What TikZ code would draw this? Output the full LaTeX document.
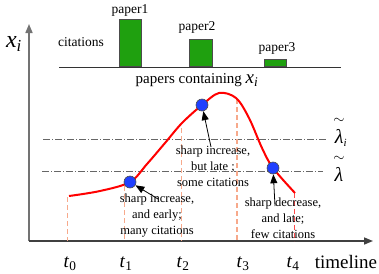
\documentclass[tikz,border=0pt]{standalone}
\usepackage{fontspec}
\setmainfont{Liberation Serif}
\usetikzlibrary{arrows.meta}
\definecolor{barg}{HTML}{1FA00F}
\definecolor{dotb}{HTML}{2040FF}
\definecolor{salmon}{HTML}{F7A98B}
\begin{document}
\begin{tikzpicture}[x=1pt,y=-1pt,
  axisline/.style={line width=1.6pt,draw=black!55},
  bar/.style={draw=black!70,fill=barg,line width=0.8pt,minimum width=22pt,inner sep=0pt,anchor=south},
  lbl/.style={inner sep=0pt,font=\fontsize{13.5}{16}\selectfont},
  annot/.style={inner sep=0pt,align=center,font=\fontsize{12.5}{16}\selectfont},
  big/.style={inner sep=0pt,font=\fontsize{19}{22}\selectfont},
  dot/.style={circle,draw=black!70,fill=dotb,line width=0.6pt,minimum size=12pt,inner sep=0pt},
  curve/.style={red,line width=2pt},
  thr/.style={black!60,line width=0.7pt,dash pattern=on 7pt off 2pt on 1pt off 2pt},
  tline/.style={salmon,line width=0.9pt,dash pattern=on 5pt off 3pt},
  arr/.style={black,line width=0.8pt,-{Triangle[length=9pt,width=7pt]}}
]
\useasboundingbox (0,0) rectangle (379,273);

% axes
\coordinate (O) at (29,241);
\coordinate (Ytop) at (29,24);
\coordinate (Xend) at (373,241);
\draw[axisline,-{Triangle[length=9pt,width=7pt]}] (O) -- (Ytop);
\draw[axisline,draw=black!75,-{Triangle[length=9pt,width=7pt]}] (O) -- (Xend);
\node[inner sep=0pt,font=\fontsize{24}{26}\selectfont] (xi) at (14,44) {\itshape x\textsubscript{i}};

% top bar chart
\coordinate (bl) at (59,67);
\coordinate (br) at (341,67);
\draw[black!80,line width=0.8pt] (bl) -- (br);
\node[bar,minimum height=47pt] (b1) at (130,67) {};
\node[bar,minimum height=27pt,minimum width=23pt] (b2) at (201,67) {};
\node[bar,minimum height=7pt] (b3) at (275,67) {};
\node[lbl] (p1) at (130,10) {paper1};
\node[lbl] (p2) at (197,27) {paper2};
\node[lbl] (p3) at (277,48) {paper3};
\node[lbl] (cit) at (81,42) {citations};
\node[inner sep=0pt,font=\fontsize{15}{17}\selectfont] (pc) at (197,80) {papers containing {\fontsize{19}{19}\selectfont\itshape x\textsubscript{i}}};

% thresholds
\coordinate (l1a) at (43,139);
\coordinate (l1b) at (327,139);
\coordinate (l2a) at (42,171);
\coordinate (l2b) at (323,171);
\draw[thr] (l1a) -- (l1b);
\draw[thr] (l2a) -- (l2b);
\node[inner sep=0pt,font=\fontsize{20}{22}\selectfont] (lam1) at (341,138) {\itshape λ\textsubscript{\fontsize{11}{11}\selectfont i}};
\node[inner sep=0pt,font=\fontsize{15}{15}\selectfont] (til1) at (339,121) {$\sim$};
\node[inner sep=0pt,font=\fontsize{20}{22}\selectfont] (lam2) at (339,174) {\itshape λ};
\node[inner sep=0pt,font=\fontsize{15}{15}\selectfont] (til2) at (339,158.5) {$\sim$};

% vertical dashed lines
\coordinate (t0a) at (67,197); \coordinate (t0b) at (67,241);
\coordinate (t1a) at (124,186); \coordinate (t1b) at (124,241);
\coordinate (t2a) at (181,128); \coordinate (t2b) at (181,241);
\coordinate (t3a) at (237,99); \coordinate (t3b) at (237,241);
\coordinate (t4a) at (294,193); \coordinate (t4b) at (294,241);
\draw[tline] (t0a) -- (t0b);
\draw[tline] (t1a) -- (t1b);
\draw[tline] (t2a) -- (t2b);
\draw[tline,line width=1.6pt] (t3a) -- (t3b);
\draw[tline,line width=0.6pt,draw=red!70] (t4a) -- (t4b);

% curve
\draw[curve] plot[smooth,tension=0.55] coordinates {(69,196) (100,191) (130,182) (147,164) (165,143) (182,123) (202,105) (219,93) (236,98) (249,118) (262,148) (273,168) (295,193)};

% dots
\node[dot] (d1) at (130,182) {};
\node[dot] (d2) at (202,105) {};
\node[dot] (d3) at (273,168) {};

% annotations
\node[annot] (a2) at (213,166) {sharp increase,\\but late ;\\some citations};
\node[annot] (a1) at (157,216) {sharp increase,\\and early;\\many citations};
\node[annot] (a3) at (283,218) {sharp decrease,\\and late;\\few citations};
\coordinate (a2s) at (211,147);
\coordinate (a1s) at (158,199);
\coordinate (a3s) at (275,206);
\draw[arr] (a2s) -- (d2);
\draw[arr] (a1s) -- (d1);
\draw[arr] (a3s) -- (d3);

% time labels
\node[big] (t0) at (70,264) {\textit{t}\textsubscript{0}};
\node[big] (t1) at (126,264) {\textit{t}\textsubscript{1}};
\node[big] (t2) at (183,264) {\textit{t}\textsubscript{2}};
\node[big] (t3) at (243,264) {\textit{t}\textsubscript{3}};
\node[big] (t4) at (293,264) {\textit{t}\textsubscript{4}};
\node[big] (tl) at (346,262) {timeline};
\end{tikzpicture}
\end{document}
